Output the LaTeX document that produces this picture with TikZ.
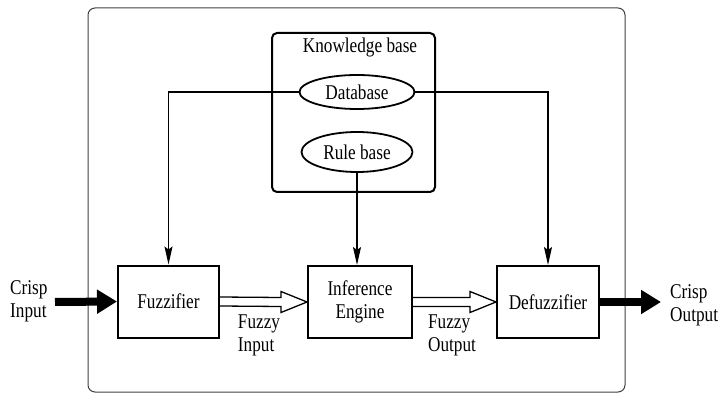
\documentclass[tikz,border=0pt]{standalone}
\usepackage{fontspec}
\setmainfont{Liberation Serif}[FakeStretch=0.82]
\usetikzlibrary{arrows.meta,shapes.geometric,calc}
\begin{document}
\begin{tikzpicture}[x=1pt,y=-1pt,
  every node/.style={font=\fontsize{21}{23}\selectfont, inner sep=0pt},
  blk/.style={draw, line width=2pt, minimum width=101pt, minimum height=72pt},
  ell/.style={draw, ellipse, line width=1.8pt},
  conn/.style={line width=1.3pt, -{Stealth[length=18pt,width=8pt,inset=3pt]}},
  hollow/.style={draw, line width=1.3pt, fill=white},
  thick arrow/.style={line width=8pt, -{Triangle[length=20pt,width=23pt]}},
  lbl/.style={align=left}
]
\useasboundingbox (0,0) rectangle (720,398);
% outer frame
\draw[line width=1pt, draw=black!75, rounded corners=7pt] (88,8) rectangle (625,392);
% knowledge base
\node[draw, line width=2pt, rounded corners=5pt, minimum width=163pt, minimum height=159pt] (kb) at (353.5,112.5) {};
\node (kbt) at (360,47) {Knowledge base};
\node[ell, minimum width=115pt, minimum height=34pt] (db) at (357,92) {Database};
\node[ell, minimum width=111pt, minimum height=40pt] (rb) at (357,152) {Rule base};
% blocks
\node[blk] (fuz) at (168.5,301.5) {Fuzzifier};
\node[blk, minimum width=104pt, align=center] (inf) at (360,302) {Inference\\Engine};
\node[blk, minimum width=102pt] (def) at (548,302) {Defuzzifier};
% connectors from knowledge base
\draw[conn] (db.west) -| (fuz.north);
\draw[conn] (db.east) -| (def.north);
\draw[conn] (rb.south) -- (rb.south |- inf.north);
% hollow arrows
\draw[hollow] ($(fuz.east)+(0,-4.5)$) -- ($(inf.west)+(-26,-4.5)$) -- ($(inf.west)+(-26,-10.5)$) -- (inf.west)
  -- ($(inf.west)+(-26,10.5)$) -- ($(inf.west)+(-26,4.5)$) -- ($(fuz.east)+(0,4.5)$);
\draw[hollow] ($(inf.east)+(0,-4.5)$) -- ($(def.west)+(-26,-4.5)$) -- ($(def.west)+(-26,-10.5)$) -- (def.west)
  -- ($(def.west)+(-26,10.5)$) -- ($(def.west)+(-26,4.5)$) -- ($(inf.east)+(0,4.5)$);
\node[lbl] (fin) at (259,335) {Fuzzy\\Input};
\node[lbl] (fout) at (452,335) {Fuzzy\\Output};
% crisp input/output
\coordinate (cin) at (55,302);
\coordinate (cout) at (661,302);
\draw[thick arrow] (cin) -- (fuz.west);
\draw[thick arrow] (def.east) -- (cout);
\node[lbl, anchor=west] (cint) at (10,301) {Crisp\\Input};
\node[lbl, anchor=west] (coutt) at (670,305) {Crisp\\Output};
\end{tikzpicture}
\end{document}
